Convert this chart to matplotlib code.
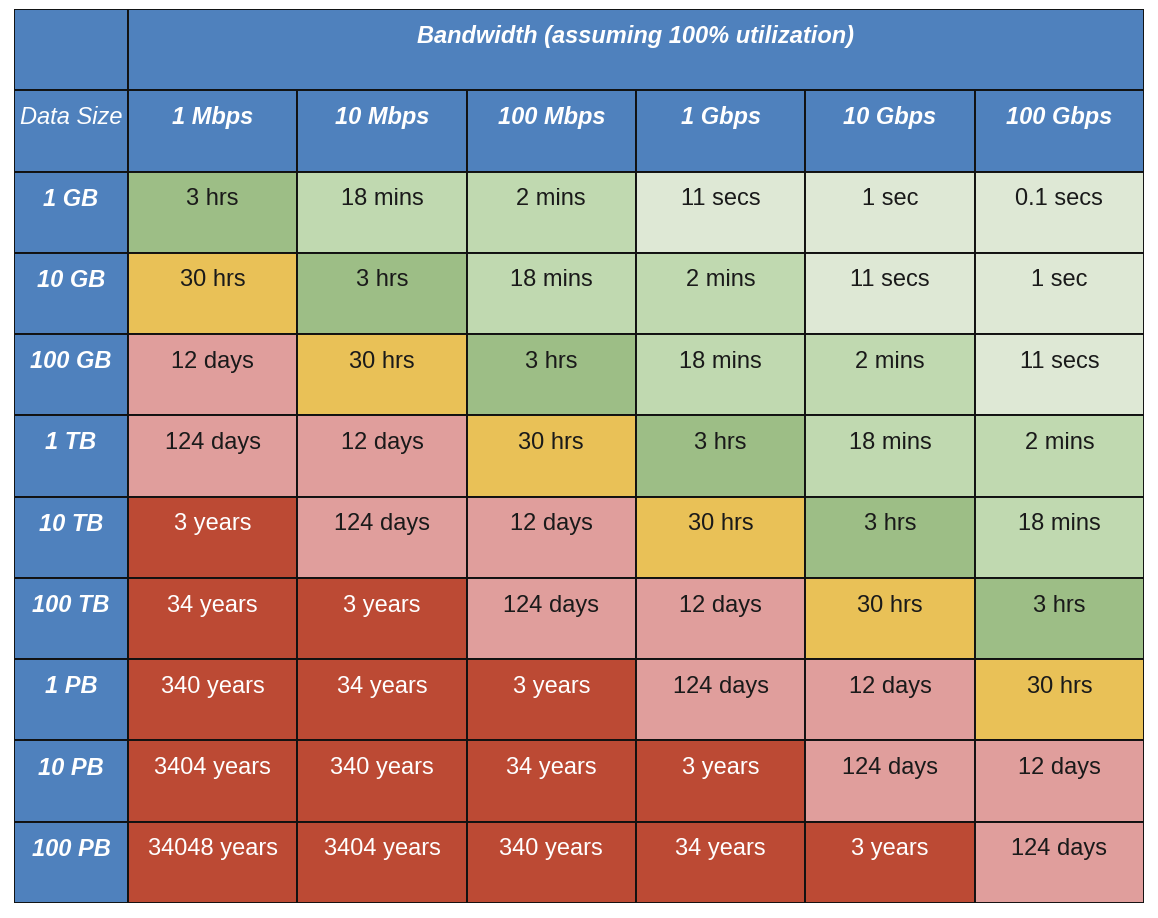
import matplotlib.pyplot as plt
from matplotlib.patches import Rectangle

bandwidths = ["1 Mbps", "10 Mbps", "100 Mbps", "1 Gbps", "10 Gbps", "100 Gbps"]
data_sizes = ["1 GB", "10 GB", "100 GB", "1 TB", "10 TB", "100 TB", "1 PB", "10 PB", "100 PB"]
times = [
    ["3 hrs", "18 mins", "2 mins", "11 secs", "1 sec", "0.1 secs"],
    ["30 hrs", "3 hrs", "18 mins", "2 mins", "11 secs", "1 sec"],
    ["12 days", "30 hrs", "3 hrs", "18 mins", "2 mins", "11 secs"],
    ["124 days", "12 days", "30 hrs", "3 hrs", "18 mins", "2 mins"],
    ["3 years", "124 days", "12 days", "30 hrs", "3 hrs", "18 mins"],
    ["34 years", "3 years", "124 days", "12 days", "30 hrs", "3 hrs"],
    ["340 years", "34 years", "3 years", "124 days", "12 days", "30 hrs"],
    ["3404 years", "340 years", "34 years", "3 years", "124 days", "12 days"],
    ["34048 years", "3404 years", "340 years", "34 years", "3 years", "124 days"],
]

BLUE = "#4f81bd"
tier_colors = {
    "secs": "#dee8d5",
    "mins": "#c0d9b0",
    "3hrs": "#9dbe86",
    "30hrs": "#e9c157",
    "days": "#e09e9c",
    "years": "#bc4a34",
}


def tier(label):
    if "sec" in label:
        return "secs"
    if "min" in label:
        return "mins"
    if label == "3 hrs":
        return "3hrs"
    if "hrs" in label:
        return "30hrs"
    if "day" in label:
        return "days"
    return "years"


plt.rcParams["font.family"] = ["Liberation Sans", "DejaVu Sans"]

fig = plt.figure(figsize=(11.58, 9.18), dpi=100)
ax = fig.add_axes([14 / 1158, 15 / 918, 1130 / 1158, 894 / 918])

label_w = 114 / 169.4
col_x = [0, label_w] + [label_w + i + 1 for i in range(len(bandwidths))]
n_rows = len(data_sizes) + 2
ax.set_xlim(0, col_x[-1])
ax.set_ylim(n_rows, 0)
ax.axis("off")

lw = 1.4
fs = 17
ty = 0.34  # text offset from top of cell


def cell(x0, x1, y0, color, text, tcolor="#1a1a1a", **kw):
    ax.add_patch(Rectangle((x0, y0), x1 - x0, 1, facecolor=color,
                           edgecolor="#111111", linewidth=lw))
    ax.text((x0 + x1) / 2, y0 + ty, text, ha="center", va="center",
            color=tcolor, fontsize=fs, **kw)


# header rows
cell(col_x[0], col_x[1], 0, BLUE, "")
cell(col_x[1], col_x[-1], 0, BLUE, "Bandwidth (assuming 100% utilization)",
     tcolor="white", fontweight="bold", fontstyle="italic")
cell(col_x[0], col_x[1], 1, BLUE, "Data Size", tcolor="white", fontstyle="italic")
for j, bw in enumerate(bandwidths):
    cell(col_x[j + 1], col_x[j + 2], 1, BLUE, bw, tcolor="white",
         fontweight="bold", fontstyle="italic")

# data rows
for i, ds in enumerate(data_sizes):
    y = i + 2
    cell(col_x[0], col_x[1], y, BLUE, ds, tcolor="white",
         fontweight="bold", fontstyle="italic")
    for j, t in enumerate(times[i]):
        tr = tier(t)
        tc = "white" if tr == "years" else "#1a1a1a"
        cell(col_x[j + 1], col_x[j + 2], y, tier_colors[tr], t, tcolor=tc)

fig.savefig("out.png", dpi=100)
